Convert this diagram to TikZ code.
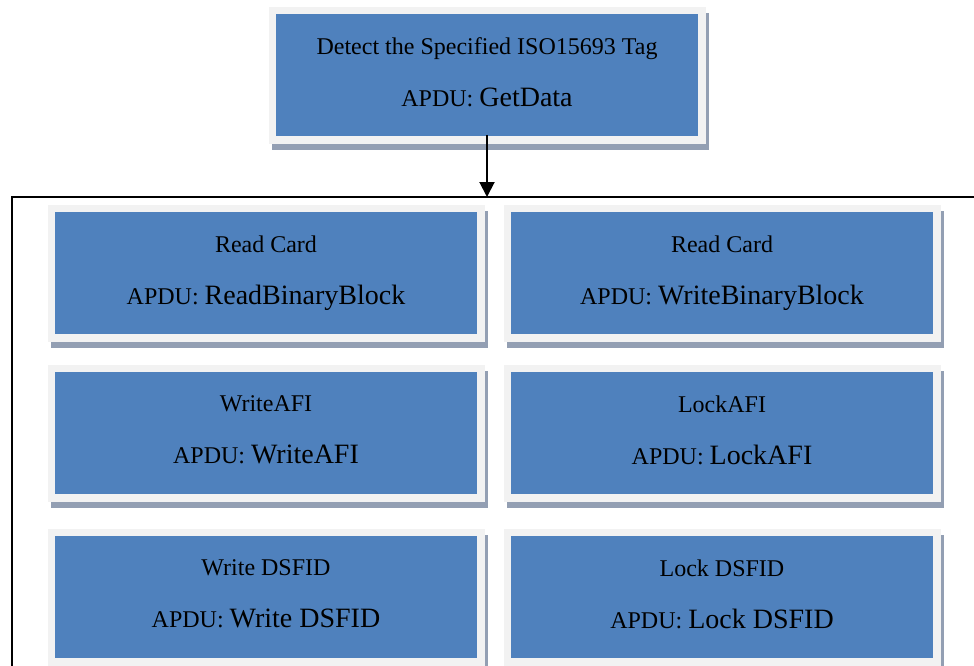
\documentclass[tikz,border=0pt]{standalone}
\usepackage{fontspec}
\setmainfont{Liberation Serif}
\usepackage{tikz}
\usetikzlibrary{arrows.meta, positioning, shadows}
\definecolor{boxblue}{HTML}{4F81BD}
\definecolor{framegray}{HTML}{F2F2F2}
\definecolor{shadowgray}{HTML}{939FB3}
\newcommand{\apdubox}[2]{#1\\[22pt]APDU: {\fontsize{28}{30}\selectfont #2}}

\begin{document}
\begin{tikzpicture}[x=1pt, y=-1pt,
    box/.style={fill=boxblue, draw=framegray, line width=7.5pt, minimum width=429.5pt, minimum height=129.5pt, inner sep=0pt, text depth=6pt, align=center, text=black, font=\fontsize{24}{30}\selectfont, drop shadow={shadow xshift=3.5pt, shadow yshift=-6pt, fill=shadowgray, draw=shadowgray, opacity=1}},
    arr/.style={-{Triangle[length=15pt, width=15pt]}, line width=2pt, black},
    frameline/.style={draw=black, line width=2pt}
  ]
  \useasboundingbox (0,0) rectangle (974,666);
  \node[box] (detect) at (487,75.5) {\apdubox{Detect the Specified ISO15693 Tag}{GetData}};
  % container around the commands
  \coordinate (frametop) at (detect.south |- 0,197);
  \draw[frameline] (990,197) -- (12,197) -- (12,690);
  \node[box] (readblk) at (266,273) {\apdubox{Read Card}{ReadBinaryBlock}};
  \node[box, right=19pt of readblk] (writeblk) {\apdubox{Read Card}{WriteBinaryBlock}};
  \node[box, below=23pt of readblk] (writeafi) {\apdubox{WriteAFI}{WriteAFI}};
  \node[box, below=23pt of writeblk] (lockafi) {\apdubox{LockAFI}{LockAFI}};
  \node[box, below=27pt of writeafi] (writedsfid) {\apdubox{Write DSFID}{Write DSFID}};
  \node[box, below=27pt of lockafi] (lockdsfid) {\apdubox{Lock DSFID}{Lock DSFID}};
  \draw[arr] ([yshift=9pt]detect.south) -- (frametop);
\end{tikzpicture}
\end{document}
